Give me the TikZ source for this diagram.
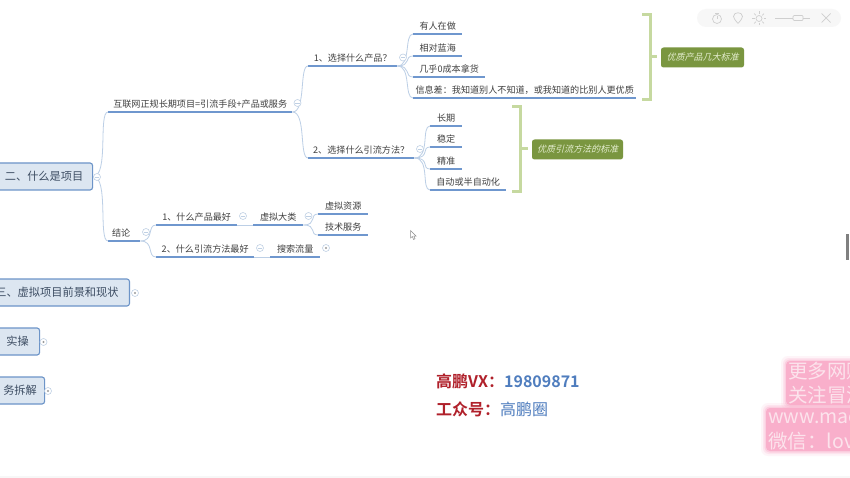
\documentclass[tikz,border=0pt]{standalone}
\usepackage{fontspec}
\setmainfont{Noto Sans CJK SC}
\newfontfamily\slantcjk[FakeSlant=0.25]{Noto Sans CJK SC}
\newfontfamily\boldcjk[BoldFont={Noto Sans CJK SC Bold}]{Noto Sans CJK SC}
\definecolor{ulblue}{HTML}{6F97CE}
\definecolor{linkblue}{HTML}{BCCFE6}
\definecolor{btnblue}{HTML}{BFD0E4}
\definecolor{rootfill}{HTML}{DCE6F1}
\definecolor{rootline}{HTML}{6C94C8}
\definecolor{rootink}{HTML}{3D4D63}
\definecolor{ink}{HTML}{404040}
\definecolor{brace}{HTML}{C6D9A0}
\definecolor{tagfill}{HTML}{7A9640}
\definecolor{tagink}{HTML}{E4EDCF}
\definecolor{redink}{HTML}{B0202A}
\definecolor{blueink}{HTML}{4F7DBE}
\definecolor{glow}{HTML}{F9A8C6}
\definecolor{glowink}{HTML}{FCE3EC}
\definecolor{toolgray}{HTML}{CFCFCF}
\tikzset{
  topicnode/.style={anchor=south west,inner sep=0pt,minimum height=16pt,text=ink,font=\fontsize{9.1}{9}\selectfont},
  ul/.style={draw=ulblue,line width=1.3pt},
  link/.style={draw=linkblue,line width=0.8pt},
  rootnode/.style={draw=rootline,fill=rootfill,rounded corners=2.5pt,line width=1.1pt,text=rootink,inner sep=0pt,minimum height=27pt,font=\fontsize{11.2}{12}\selectfont},
  btn/.style={circle,draw=btnblue,fill=white,line width=0.6pt,minimum size=7pt,inner sep=0pt},
  minusbtn/.style={btn,path picture={\draw[btnblue,line width=0.6pt] ([xshift=-2.2pt]path picture bounding box.center)--([xshift=2.2pt]path picture bounding box.center);}},
  plusbtn/.style={btn,path picture={\fill[gray!80] (path picture bounding box.center) circle (1.2pt);}},
  bracket/.style={draw=brace,line width=3pt},
  tagnode/.style={fill=tagfill,rounded corners=2.5pt,text=tagink,inner sep=0pt,minimum height=20pt,font=\slantcjk\fontsize{9}{9}\selectfont},
  toolicon/.style={draw=toolgray,line width=0.7pt},
  glowblob/.style={fill=glow},
  glowtext/.style={anchor=west,inner sep=0pt,text=glowink,font=\fontsize{19.5}{20}\selectfont},
  bigtext/.style={anchor=west,inner sep=0pt,font=\boldcjk\bfseries\fontsize{16}{17}\selectfont}
}
% name, left x, right x, underline y, text
\newcommand{\tpc}[5]{%
  \node[topicnode,minimum width={(#3-#2)*1pt}] (#1) at (#2,#4) {#5};
  \draw[ul] (#1.south west) -- (#1.south east);}
\newcommand{\lnk}[2]{%
  \draw[link] (#1.south east) .. controls +(14,0) and +(-9,0) .. (#2.south west);}
\newcommand{\glowbox}[4]{%
  \fill[glowblob,opacity=.12,rounded corners=7pt] (#1-5,#2-5) rectangle (#3+8,#4+5);
  \fill[glowblob,opacity=.2,rounded corners=6pt] (#1-3,#2-3) rectangle (#3+8,#4+3);
  \fill[glowblob,opacity=.35,rounded corners=5pt] (#1-1.5,#2-1.5) rectangle (#3+8,#4+1.5);
  \fill[glowblob,opacity=.8,rounded corners=4pt] (#1,#2) rectangle (#3+8,#4);}
\begin{document}
\begin{tikzpicture}[x=1pt,y=-1pt]
\useasboundingbox (0,0) rectangle (850,478);
\clip (0,0) rectangle (850,478);
\fill[white] (0,0) rectangle (850,478);
\fill[black!3] (0,476) rectangle (850,478);

% central topics
\node[rootnode,anchor=west,minimum width=97pt] (root) at (-5,176.5) {二、什么是项目};
\node[rootnode,anchor=east,minimum width=145pt] (three) at (130,292.5) {三、虚拟项目前景和现状};
\node[rootnode,anchor=west,minimum width=44pt] (four) at (-5,341.5) {实操};
\node[rootnode,anchor=west,minimum width=49pt] (five) at (-5,390.5) {务拆解};
\node[plusbtn] (b3) at (135,293) {};
\node[plusbtn] (b4) at (43.5,342) {};
\node[plusbtn] (b5) at (48,391) {};

% topics
\tpc{a}{108}{292}{112}{互联网正规长期项目=引流手段+产品或服务}
\tpc{c}{108}{140}{241}{\hspace*{-6pt}结论}
\tpc{a1}{308}{397}{66}{1、选择什么产品？}
\tpc{a2}{308}{414}{158}{2、选择什么引流方法？}
\tpc{p1}{413}{462}{34}{有人在做}
\tpc{p2}{413}{462}{56}{相对蓝海}
\tpc{p3}{413}{485}{77}{几乎0成本拿货}
\tpc{p4}{413}{636}{98}{信息差：我知道别人不知道，或我知道的比别人更优质}
\tpc{m1}{430}{462}{126}{长期}
\tpc{m2}{430}{462}{147}{稳定}
\tpc{m3}{430}{462}{169}{精准}
\tpc{m4}{430}{506}{190}{自动或半自动化}
\tpc{c1}{156}{237}{225}{1、什么产品最好}
\tpc{c2}{156}{254}{257}{2、什么引流方法最好}
\tpc{v}{253}{303}{225}{虚拟大类}
\tpc{s}{270}{320}{257}{搜索流量}
\tpc{v1}{318}{368}{214}{虚拟资源}
\tpc{v2}{318}{368}{235}{技术服务}

% connectors
\draw[link] (root.east) .. controls +(16,0) and +(-10,0) .. (a.south west);
\draw[link] (root.east) .. controls +(16,0) and +(-10,0) .. (c.south west);
\lnk{a}{a1}\lnk{a}{a2}
\lnk{a1}{p1}\lnk{a1}{p2}\lnk{a1}{p3}\lnk{a1}{p4}
\draw[link] (a2.south east) .. controls +(16,0) and +(-9,0) .. (m1.south west);
\draw[link] (a2.south east) .. controls +(16,0) and +(-9,0) .. (m2.south west);
\draw[link] (a2.south east) .. controls +(16,0) and +(-9,0) .. (m3.south west);
\draw[link] (a2.south east) .. controls +(16,0) and +(-9,0) .. (m4.south west);
\lnk{c}{c1}\lnk{c}{c2}
\draw[link] (c1.south east) -- (v.south west);
\draw[link] (c2.south east) -- (s.south west);
\lnk{v}{v1}\lnk{v}{v2}

% collapse buttons
\node[minusbtn] (broot) at (97,177) {};
\node[minusbtn] (ba) at (297.5,103) {};
\node[minusbtn] (bc) at (146,232) {};
\node[minusbtn] (ba1) at (403,57.5) {};
\node[minusbtn] (ba2) at (420,149) {};
\node[minusbtn] (bc1) at (243,216) {};
\node[minusbtn] (bv) at (308.5,216) {};
\node[minusbtn] (bc2) at (260,248) {};
\node[plusbtn] (bs) at (326,248) {};

% summary brackets and tags
\coordinate (b1t) at (642,15);
\coordinate (b1b) at (642,100);
\coordinate (b1m) at (650,57);
\node[tagnode,minimum width=83pt] (t1) at (702.5,57.5) {优质产品几大标准};
\draw[bracket] (b1t) -| (b1m |- b1b) -- (b1b);
\draw[bracket] (b1m) -- (657,57);
\coordinate (b2t) at (512,107);
\coordinate (b2b) at (512,192);
\coordinate (b2m) at (520.5,149);
\node[tagnode,minimum width=91pt] (t2) at (577.5,149.5) {优质引流方法的标准};
\draw[bracket] (b2t) -| (b2m |- b2b) -- (b2b);
\draw[bracket] (b2m) -- (528,149);

% contact text
\node[bigtext] (vx) at (436,381) {\textcolor{redink}{高鹏VX：}\textcolor{blueink}{19809871}};
\node[bigtext] (gzh) at (436,409.5) {\textcolor{redink}{工众号：}\textcolor{blueink}{\mdseries 高鹏圈}};

% watermark
\glowbox{786}{361}{850}{405}
\glowbox{766}{408}{850}{451}
\node[glowtext] (w1) at (788,371) {更多网赚};
\node[glowtext] (w2) at (788,395) {关注冒泡};
\node[glowtext] (w3) at (768,418) {www.mac};
\node[glowtext] (w4) at (768,441) {微信：lov};

% toolbar
\fill[black!3,rounded corners=9pt] (697,9) rectangle (841,27);
\draw[toolicon] (717,19) circle (4.5pt);
\draw[toolicon] (717,19) -- (717,16.5) (715,13) -- (719,13);
\draw[toolicon] (738,23.5) .. controls (735,20) and (733.5,18) .. (733.5,16.5)
  .. controls (733.5,11.5) and (742.5,11.5) .. (742.5,16.5)
  .. controls (742.5,18) and (741,20) .. (738,23.5);
\draw[toolicon] (759,18.5) circle (3pt);
\foreach \ang in {0,45,...,315}{\draw[toolicon] (759,18.5) ++(\ang:4.5) -- ++(\ang:2.5);}
\draw[toolicon] (775,18) -- (793,18) (803,18) -- (810,18);
\draw[toolicon,rounded corners=1pt] (793,15.5) rectangle (803,20.5);
\draw[toolicon] (821.5,13.5) -- (830.5,22.5) (830.5,13.5) -- (821.5,22.5);

% mouse cursor
\draw[black!45,fill=white,line width=0.5pt] (410.5,230.5) -- (410.5,238) -- (412.3,236.5) -- (413.6,239.5) -- (415,238.8) -- (413.8,236) -- (416,236) -- cycle;

% scroll indicator
\fill[black!50] (846,234) rectangle (849,260);
\end{tikzpicture}
\end{document}
